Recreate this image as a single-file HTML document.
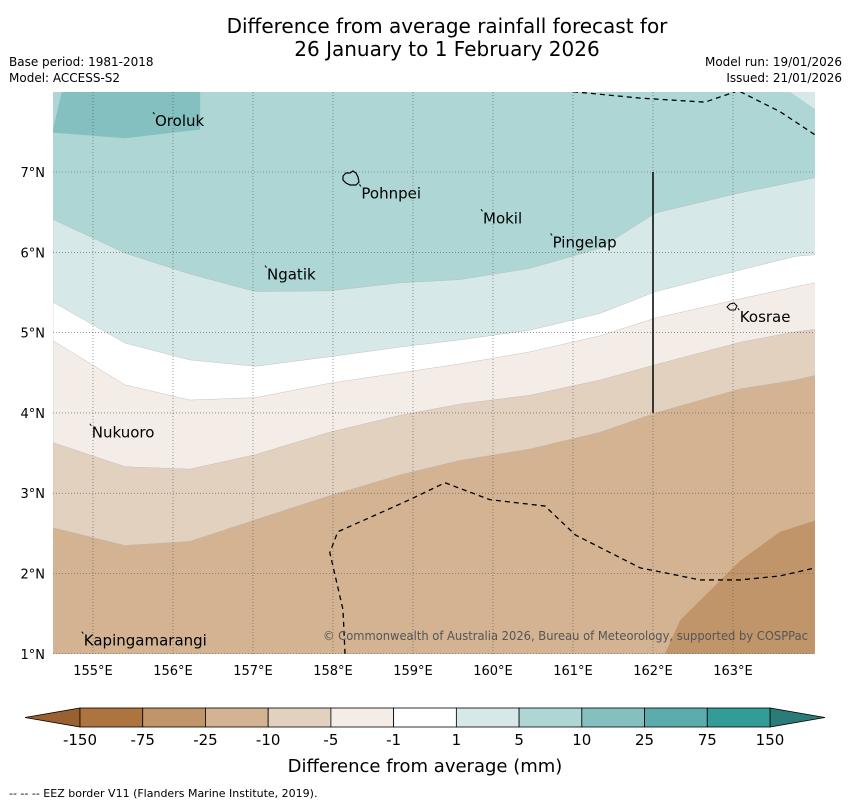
<!DOCTYPE html>
<html><head><meta charset="utf-8">
<style>
body{margin:0;background:#fff;font-family:"DejaVu Sans","Liberation Sans",sans-serif;}
#wrap{position:relative;width:850px;height:804px;overflow:hidden;}
svg{position:absolute;left:0;top:0;}
</style></head>
<body>
<div id="wrap">
<svg id="svg" width="850" height="804" viewBox="0 0 850 804">
<text x="447" y="33" text-anchor="middle" font-size="20">Difference from average rainfall forecast for</text>
<text x="447" y="56" text-anchor="middle" font-size="20">26 January to 1 February 2026</text>
<text x="9" y="66" font-size="12">Base period: 1981-2018</text>
<text x="9" y="82" font-size="12">Model: ACCESS-S2</text>
<text x="842" y="66" font-size="12" text-anchor="end">Model run: 19/01/2026</text>
<text x="842" y="82" font-size="12" text-anchor="end">Issued: 21/01/2026</text>
<g id="map"></g>
<g id="cbar"></g>
<text x="425" y="772" text-anchor="middle" font-size="18">Difference from average (mm)</text>
<text x="9" y="797" font-size="11">--  --  -- EEZ border V11 (Flanders Marine Institute, 2019).</text>
</svg>
</div>
<script>
// ---- data ----
const lons = [154.5,155.4,156.21,157.03,157.96,158.84,159.59,160.46,161.34,162.03,163.09,163.78,164.03];
const latB5  = [6.41,5.99,5.73,5.51,5.52,5.62,5.66,5.80,6.05,6.49,6.74,6.88,6.93];
const latB1  = [5.38,4.87,4.66,4.58,4.70,4.82,4.91,5.03,5.24,5.51,5.78,5.95,5.97];
const latBm1 = [4.90,4.35,4.16,4.19,4.37,4.50,4.61,4.76,4.96,5.18,5.42,5.57,5.62];
const latBm5 = [3.63,3.33,3.30,3.48,3.76,3.97,4.11,4.22,4.41,4.60,4.88,5.01,5.04];
const latBm10= [2.57,2.35,2.40,2.67,2.97,3.23,3.41,3.55,3.76,4.00,4.30,4.41,4.47];
const bandColors = ['#d6e9e8','#ffffff','#f4ede7','#e3d1c0','#d3b392'];
const patch10Lon = [154.5,154.61,156.34,156.34,155.4,154.5];
const patch10Lat = [7.53,8,8,7.53,7.42,7.49];
const patchTRLon = [163.71,164.03,164.03];
const patchTRLat = [8,8,7.78];
const patchBRLon = [162.15,162.34,163.09,163.59,164.09,164.09];
const patchBRLat = [1,1.42,2.16,2.52,2.68,1];
const eez1Lon = [158.15,158.125,157.96,158.06,158.4,158.96,159.4,159.96,160.65,161.03,161.84,162.59,163.09,163.59,164.03];
const eez1Lat = [1.0,1.55,2.26,2.52,2.67,2.92,3.13,2.92,2.84,2.48,2.07,1.92,1.92,1.97,2.07];
const eez2Lon = [161.0,161.84,162.65,163.03];
const eez2Lat = [8,7.92,7.87,8];
const eez3Lon = [163.09,163.59,164.03];
const eez3Lat = [8,7.75,7.46];
const lonTicks = [155,156,157,158,159,160,161,162,163];
const latTicks = [1,2,3,4,5,6,7];
const places = ['Oroluk','Pohnpei','Mokil','Pingelap','Ngatik','Kosrae','Nukuoro','Kapingamarangi'];
const placeLon = [155.75,158.33,159.85,160.72,157.15,163.06,154.96,154.86];
const placeLat = [7.72,6.82,6.51,6.21,5.81,5.28,3.84,1.25];
const cbLabels = ['-150','-75','-25','-10','-5','-1','1','5','10','25','75','150'];
const cbColors = ['#ae7440','#c0956a','#d3b392','#e3d1c0','#f4ede7','#ffffff','#d6e9e8','#aed6d5','#84c0bf','#5aadac','#339c99'];
// ---- scales ----
const X = lon => 53 + (lon-154.5)*80;
const Y = lat => 172 + (7-lat)*80.3;
const NS='http://www.w3.org/2000/svg';
const map=document.getElementById('map');
function mk(tag,attrs,parent){const e=document.createElementNS(NS,tag);for(const k in attrs)e.setAttribute(k,attrs[k]);(parent||map).appendChild(e);return e;}
const pts=(lo,la)=>lo.map((v,i)=>X(v)+','+Y(la[i])).join(' ');
const cp=mk('clipPath',{id:'mc'});mk('rect',{x:53,y:92,width:762,height:562},cp);
const g=mk('g',{'clip-path':'url(#mc)'});
let r=mk('rect',{x:53,y:92,width:762,height:562,fill:'#aed6d5'},g);


const bounds=[latB5,latB1,latBm1,latBm5,latBm10];
const bandNames=['band-1-5','band-neutral','band-minus1-minus5','band-minus5-minus10','band-minus10-minus25'];
bounds.forEach((b,i)=>{
  const p=mk('polygon',{points:pts(lons,b)+' '+X(164.03)+','+Y(0.9)+' '+X(154.5)+','+Y(0.9),fill:bandColors[i],stroke:'#b8b8b8','stroke-width':0.4},g);
  
  
});
let p1=mk('polygon',{points:pts(patch10Lon,patch10Lat),fill:'#84c0bf'},g);


let p2=mk('polygon',{points:pts(patchTRLon,patchTRLat),fill:'#d6e9e8'},g);


let p3=mk('polygon',{points:pts(patchBRLon,patchBRLat),fill:'#c0956a'},g);


// grid
lonTicks.forEach(l=>{
  const ln=mk('line',{x1:X(l),x2:X(l),y1:92,y2:654,stroke:'#555','stroke-width':0.6,'stroke-dasharray':'1,2'},g);
  
  
  const t=mk('text',{x:X(l),y:675,'font-size':13,'text-anchor':'middle'});t.textContent=l+'°E';
  
  
});
latTicks.forEach(l=>{
  const ln=mk('line',{x1:53,x2:815,y1:Y(l),y2:Y(l),stroke:'#555','stroke-width':0.6,'stroke-dasharray':'1,2'},g);
  
  
  const t=mk('text',{x:45,y:Y(l)+5,'font-size':13,'text-anchor':'end'});t.textContent=l+'°N';
  
  
});
// EEZ
[[eez1Lon,eez1Lat],[eez2Lon,eez2Lat],[eez3Lon,eez3Lat]].forEach(([lo,la])=>{
  const e=mk('polyline',{points:pts(lo,la),fill:'none',stroke:'#000','stroke-width':1.3,'stroke-dasharray':'5,4'},g);
  
  
});
let vl=mk('line',{x1:X(162.0),x2:X(162.0),y1:Y(7),y2:Y(4),stroke:'#000','stroke-width':1.5},g);


// islands
let ip=mk('path',{d:'M343,176 l3,-3 l4,0 l3,-2 l3,2 l2,4 l1,5 l-3,3 l-6,0 l-4,-2 l-3,-3z',fill:'none',stroke:'#000','stroke-width':1.2},g);


let ik=mk('path',{d:'M727,307 l3,-3 l4,-1 l3,3 l-2,4 l-5,0z',fill:'none',stroke:'#000','stroke-width':1},g);


places.forEach((n,i)=>{
  const t=mk('text',{x:X(placeLon[i])+2,y:Y(placeLat[i])+12,'font-size':15},g);t.textContent=n;
  
  
  const m=mk('line',{x1:X(placeLon[i]),y1:Y(placeLat[i])-2,x2:X(placeLon[i])+1.5,y2:Y(placeLat[i]),stroke:'#000','stroke-width':1},g);
  
  
});
let cr=mk('text',{x:323,y:640,'font-size':12,fill:'#555',textLength:485,lengthAdjust:'spacingAndGlyphs'},g);
cr.textContent='© Commonwealth of Australia 2026, Bureau of Meteorology, supported by COSPPac';


// colorbar
const cb=document.getElementById('cbar');
const cbx0=80,cbw=(770-80)/cbColors.length;
let tl=mk('polygon',{points:'25,717.5 80,708 80,727',fill:'#9a6030',stroke:'#000','stroke-width':0.8},cb);


let tr=mk('polygon',{points:'825,717.5 770,708 770,727',fill:'#2b7b78',stroke:'#000','stroke-width':0.8},cb);


cbColors.forEach((c,i)=>{
  const b=mk('rect',{x:cbx0+i*cbw,y:708,width:cbw,height:19,fill:c,stroke:'#000','stroke-width':0.8},cb);
  
  
});
cbLabels.forEach((l,i)=>{
  const t=mk('text',{x:cbx0+i*cbw,y:745,'font-size':15,'text-anchor':'middle'},cb);t.textContent=l;
  
  
});
</script>
</body></html>
